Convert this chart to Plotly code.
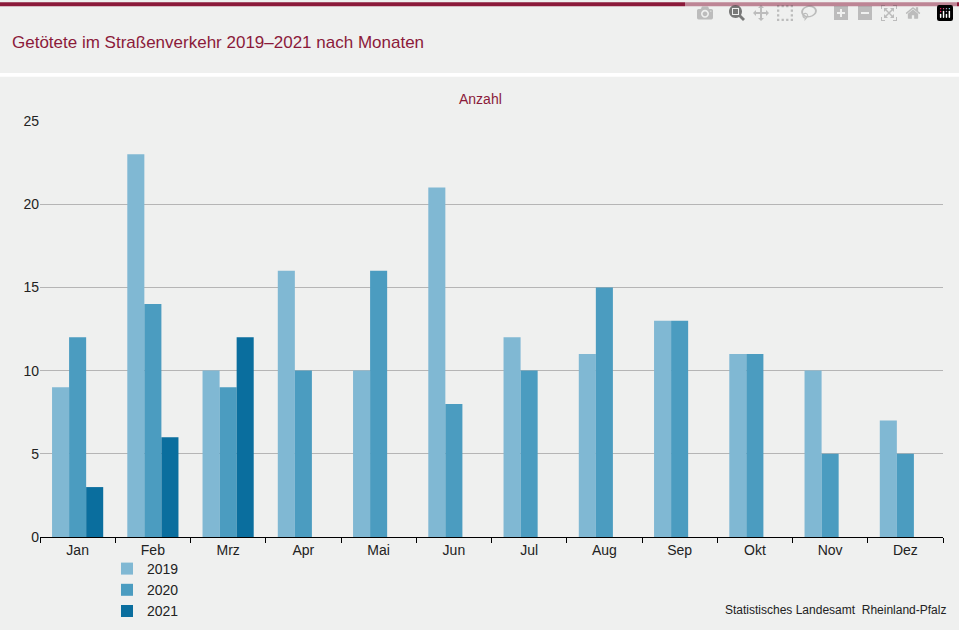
import plotly.graph_objects as go

months = ["Jan", "Feb", "Mrz", "Apr", "Mai", "Jun", "Jul", "Aug", "Sep", "Okt", "Nov", "Dez"]
y2019 = [9, 23, 10, 16, 10, 21, 12, 11, 13, 11, 10, 7]
y2020 = [12, 14, 9, 10, 16, 8, 10, 15, 13, 11, 5, 5]
y2021 = [3, 6, 12, None, None, None, None, None, None, None, None, None]

bg = "#eff0ef"
red = "#8b1a3a"

fig = go.Figure()
for name, vals, col in [("2019", y2019, "#80b8d3"), ("2020", y2020, "#4b9cc0"), ("2021", y2021, "#0a6e9e")]:
    fig.add_trace(go.Bar(x=months, y=vals, name=name, marker_color=col, marker_line_width=0))

# paper coordinate helpers: plot spans x 40..943, y 121..545 px
def px(x):
    return (x - 40) / 903

def py(y):
    return (545 - y) / 424

fig.update_layout(
    width=959, height=630,
    margin=dict(l=40, r=16, t=121, b=85),
    paper_bgcolor=bg, plot_bgcolor=bg,
    font=dict(family="Liberation Sans, Arial", size=14, color="#222"),
    barmode="group", bargap=0.32, bargroupgap=0,
    showlegend=True,
    legend=dict(orientation="h", x=px(200), y=py(590), yanchor="middle", xanchor="left",
                entrywidth=235, entrywidthmode="pixels", bgcolor="rgba(0,0,0,0)",
                font=dict(size=14)),
    xaxis=dict(showline=True, linecolor="#000", ticks="outside", tickcolor="#000",
               ticklen=5, tickson="boundaries", showgrid=False),
    yaxis=dict(range=[0, 25], dtick=5, gridcolor="#b5b5b5", showline=False,
               zeroline=False, ticks="", tickfont=dict(size=14)),
    shapes=[
        dict(type="rect", xref="paper", yref="paper", x0=px(0), x1=px(959), y0=py(4), y1=py(0),
             fillcolor=red, line_width=0, layer="above"),
        dict(type="rect", xref="paper", yref="paper", x0=px(0), x1=px(959), y0=py(76), y1=py(72),
             fillcolor="white", line_width=0, layer="above"),
    ],
    annotations=[
        dict(text="Getötete im Straßenverkehr 2019–2021 nach Monaten", xref="paper", yref="paper",
             x=px(10), y=py(41), xanchor="left", yanchor="middle", showarrow=False,
             font=dict(size=17, color=red)),
        dict(text="Anzahl", xref="paper", yref="paper", x=px(480), y=py(99),
             xanchor="center", yanchor="middle", showarrow=False, font=dict(size=14, color=red)),
        dict(text="Statistisches Landesamt  Rheinland-Pfalz", xref="paper", yref="paper",
             x=px(948), y=py(619), xanchor="right", yanchor="middle", showarrow=False,
             font=dict(size=12, color="#222")),
    ],
)

fig.write_html("out.html", post_script="document.body.style.margin='0';document.body.style.overflow='hidden';")
